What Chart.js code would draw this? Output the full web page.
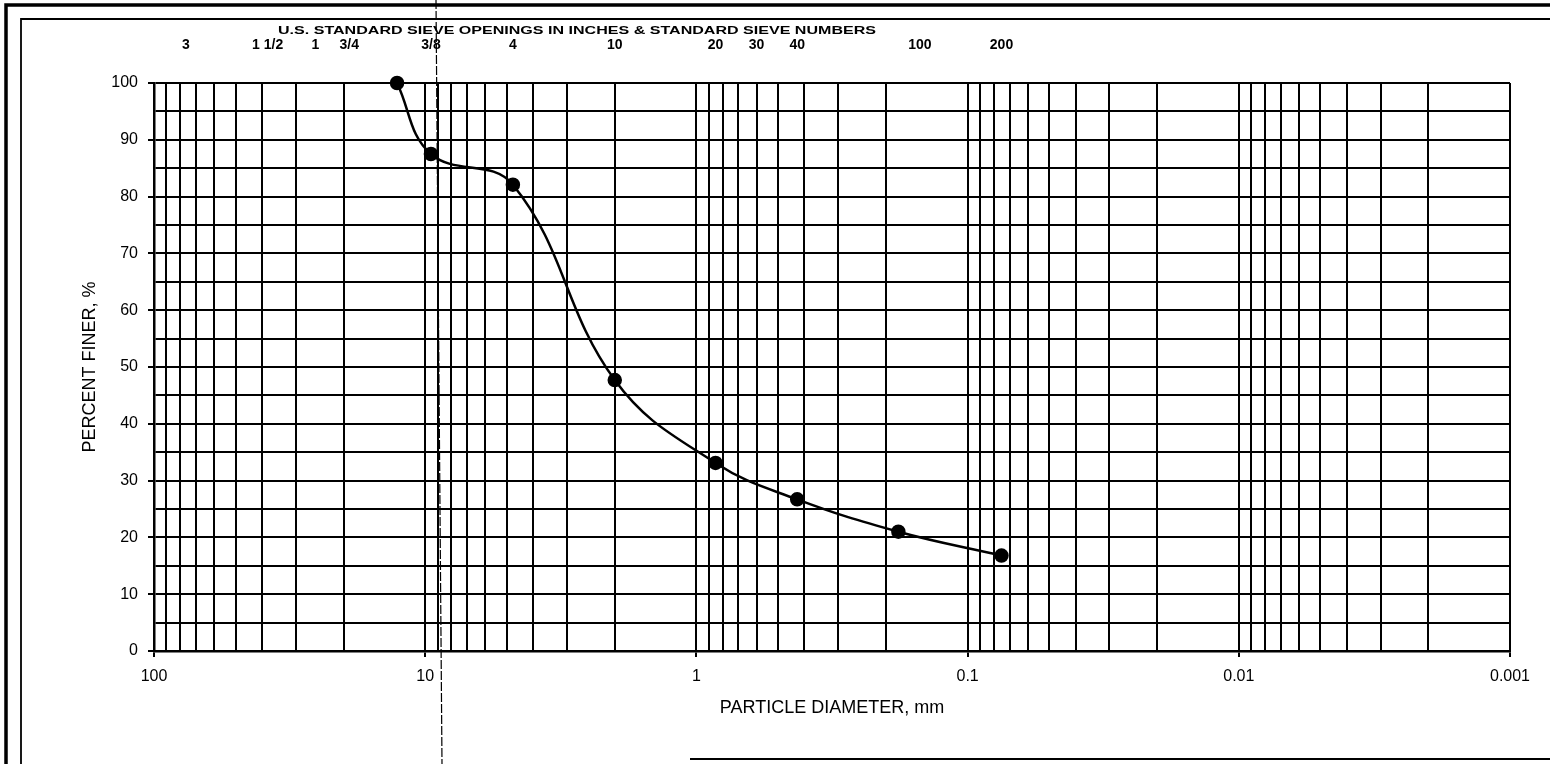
<!DOCTYPE html>
<html>
<head>
<meta charset="utf-8">
<script src="https://cdn.jsdelivr.net/npm/chart.js@4/dist/chart.umd.min.js"></script>
<style>
  html, body { margin: 0; padding: 0; background: #fff; }
  #wrap { width: 1550px; height: 764px; position: relative; }
</style>
</head>
<body>
<div id="wrap"><canvas id="grading"></canvas></div>
<script>
// Sieve analysis: particle diameter (mm) against percent passing
const diameterMm   = [12.7, 9.525, 4.75, 2.0, 0.85, 0.425, 0.18, 0.075];
const percentFiner = [100, 87.5, 82.1, 47.7, 33.1, 26.7, 21.0, 16.8];

// U.S. standard sieve openings marked along the top edge
const sieveSizesMm = [76.2, 38.1, 25.4, 19.05, 9.525, 4.75, 2.0, 0.85, 0.6, 0.425, 0.15, 0.075];
const sieveLabels  = ['3', '1 1/2', '1', '3/4', '3/8', '4', '10', '20', '30', '40', '100', '200'];

// Labelled decades on the diameter axis
const decadeValues = [100, 10, 1, 0.1, 0.01, 0.001];
const decadeLabels = ['100', '10', '1', '0.1', '0.01', '0.001'];

const sieveTitle = 'U.S. STANDARD SIEVE OPENINGS IN INCHES & STANDARD SIEVE NUMBERS';

const FONT = '"Liberation Sans", Arial, Helvetica, sans-serif';

// log-paper grid: 1..9 within every decade from 0.001 to 100
const logGrid = [];
for (let e = -3; e <= 1; e++) {
  for (let m = 1; m <= 9; m++) logGrid.push(parseFloat((m * Math.pow(10, e)).toPrecision(12)));
}
logGrid.push(100);

function decadeIndex(v) {
  return decadeValues.findIndex(d => Math.abs(d - v) / d < 1e-9);
}

const paperFrame = {
  id: 'paperFrame',
  beforeDraw(chart) {
    const { ctx, width, height } = chart;
    ctx.save();
    ctx.fillStyle = '#fff';
    ctx.fillRect(0, 0, width, height);
    ctx.restore();
  },
  afterDraw(chart) {
    const { ctx, width, height, chartArea } = chart;
    ctx.save();
    ctx.strokeStyle = '#000';
    // outer heavy frame
    ctx.lineWidth = 3.5;
    ctx.beginPath();
    ctx.moveTo(6, height); ctx.lineTo(6, 5); ctx.lineTo(width, 5);
    ctx.stroke();
    // inner light frame
    ctx.lineWidth = 1.8;
    ctx.beginPath();
    ctx.moveTo(21, height); ctx.lineTo(21, 19); ctx.lineTo(width, 19);
    ctx.stroke();
    ctx.beginPath();
    ctx.moveTo(690, height - 5); ctx.lineTo(width, height - 5);
    ctx.stroke();
    // fold crease running down the sheet
    ctx.lineWidth = 1.2;
    ctx.setLineDash([9, 2]);
    ctx.beginPath();
    ctx.moveTo(436, 0); ctx.lineTo(442, height);
    ctx.stroke();
    ctx.setLineDash([]);

    // heading above the sieve numbers
    ctx.font = 'bold 11px ' + FONT;
    ctx.fillStyle = '#000';
    ctx.textBaseline = 'middle';
    ctx.textAlign = 'left';
    const w = ctx.measureText(sieveTitle).width;
    const target = 598;
    ctx.translate(chartArea.left + 124, 31);
    ctx.scale(target / w, 1);
    ctx.fillText(sieveTitle, 0, 0);
    ctx.restore();
  }
};

new Chart(document.getElementById('grading'), {
  type: 'line',
  data: {
    datasets: [{
      data: diameterMm.map((d, i) => ({ x: d, y: percentFiner[i] })),
      borderColor: '#000',
      backgroundColor: '#000',
      borderWidth: 2.5,
      pointRadius: 6,
      pointHoverRadius: 6,
      pointBackgroundColor: '#000',
      pointBorderColor: '#000',
      tension: 0.4,
      clip: false,
      xAxisID: 'x',
      yAxisID: 'y'
    }]
  },
  options: {
    responsive: true,
    maintainAspectRatio: false,
    animation: false,
    devicePixelRatio: 1,
    layout: { padding: { left: 0, top: 0, right: 40, bottom: 0 } },
    plugins: {
      legend: { display: false },
      tooltip: { enabled: false }
    },
    scales: {
      x: {
        type: 'logarithmic',
        position: 'bottom',
        reverse: true,
        min: 0.001,
        max: 100,
        afterBuildTicks(scale) { scale.ticks = logGrid.map(v => ({ value: v })); },
        afterFit(scale) { scale.height = 113; },
        border: { display: true, color: '#000', width: 2.5 },
        grid: {
          color: '#000',
          lineWidth: 2,
          drawTicks: true,
          tickLength: 6,
          tickColor: c => (c.tick && decadeIndex(c.tick.value) >= 0) ? '#000' : 'rgba(0,0,0,0)'
        },
        ticks: {
          autoSkip: false,
          maxRotation: 0,
          minRotation: 0,
          padding: 10,
          color: '#000',
          font: { family: FONT, size: 16 },
          callback: v => { const i = decadeIndex(v); return i >= 0 ? decadeLabels[i] : ''; }
        },
        title: {
          display: true,
          text: 'PARTICLE DIAMETER, mm',
          color: '#000',
          font: { family: FONT, size: 18 },
          padding: { top: 45, bottom: 45 }
        }
      },
      x2: {
        type: 'logarithmic',
        position: 'top',
        reverse: true,
        min: 0.001,
        max: 100,
        afterBuildTicks(scale) { scale.ticks = sieveSizesMm.map(v => ({ value: v })); },
        afterFit(scale) { scale.height = 83; },
        border: { display: false },
        grid: { display: false, drawTicks: false },
        ticks: {
          autoSkip: false,
          maxRotation: 0,
          minRotation: 0,
          padding: 29,
          color: '#000',
          font: { family: FONT, size: 14, weight: 'bold' },
          callback: (v, i) => sieveLabels[i]
        }
      },
      y: {
        type: 'linear',
        position: 'left',
        min: 0,
        max: 100,
        afterFit(scale) { scale.width = 154; },
        border: { display: true, color: '#000', width: 2.5 },
        grid: {
          color: '#000',
          lineWidth: 2,
          drawTicks: true,
          tickLength: 6,
          tickColor: c => (c.tick && c.tick.value % 10 === 0) ? '#000' : 'rgba(0,0,0,0)'
        },
        ticks: {
          stepSize: 5,
          padding: 10,
          color: '#000',
          font: { family: FONT, size: 16 },
          callback: v => (v % 10 === 0 ? String(v) : '')
        },
        title: {
          display: true,
          text: 'PERCENT FINER, %',
          color: '#000',
          font: { family: FONT, size: 18 },
          padding: { top: 79, bottom: 79 }
        }
      }
    }
  },
  plugins: [paperFrame]
});
</script>
</body>
</html>
